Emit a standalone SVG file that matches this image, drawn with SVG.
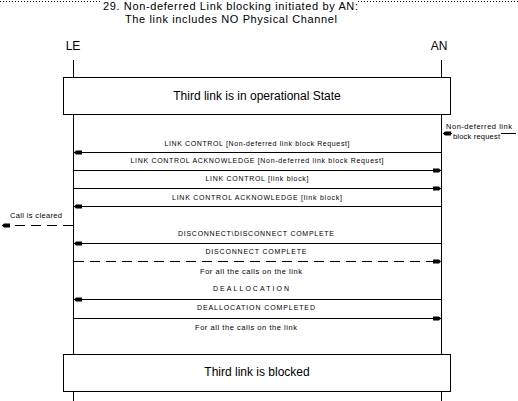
<svg xmlns="http://www.w3.org/2000/svg" width="518" height="401" viewBox="0 0 518 401">
<style>
.t{font-family:"Liberation Sans",Arial,sans-serif;fill:#000}
.h{font-size:12px}
.ti{font-size:11px}
.s{font-size:7.5px}
.m{font-size:7px;text-anchor:middle}
.ln{stroke:#000;stroke-width:1;fill:none}
.d{stroke-dasharray:10,6}
.box{fill:#fff;stroke:#000;stroke-width:1}
</style>
<defs>
<marker id="ah" viewBox="0 0 8 6" refX="8" refY="3" markerWidth="8" markerHeight="6" markerUnits="userSpaceOnUse" orient="auto">
<path d="M0,1 L6,1 L8,3 L6,5 L0,5 Z" fill="#000"/>
</marker>
</defs>
<rect width="518" height="401" fill="#fff"/>
<g id="title">
<line x1="0" y1="1.5" x2="102" y2="1.5" stroke="#000" stroke-width="1" stroke-dasharray="1,2"/>
<line x1="358" y1="1.5" x2="518" y2="1.5" stroke="#000" stroke-width="1" stroke-dasharray="1,2"/>
<text class="t ti" x="103" y="10" textLength="255">29. Non-deferred Link blocking initiated by AN:</text>
<text class="t ti" x="125" y="23" textLength="212">The link includes NO Physical Channel</text>
</g>
<g id="LE">
<text class="t h" x="73" y="50" text-anchor="middle">LE</text>
<line class="ln" x1="73.5" y1="60" x2="73.5" y2="401"/>
</g>
<g id="AN">
<text class="t h" x="439" y="50" text-anchor="middle">AN</text>
<line class="ln" x1="441.5" y1="60" x2="441.5" y2="401"/>
</g>
<g id="state1">
<rect class="box" x="63.5" y="77.5" width="387" height="37"/>
<text class="t h" x="257" y="100" text-anchor="middle">Third link is in operational State</text>
</g>
<g id="state2">
<rect class="box" x="63.5" y="354.5" width="387" height="37"/>
<text class="t h" x="257" y="376" text-anchor="middle">Third link is blocked</text>
</g>
<g id="connectors">
<line class="ln" x1="452" y1="133.5" x2="443" y2="133.5" marker-end="url(#ah)"/>
<line class="ln" x1="501" y1="133.5" x2="516" y2="133.5"/>
<line class="ln" x1="441" y1="152.5" x2="74" y2="152.5" marker-end="url(#ah)"/>
<line class="ln" x1="74" y1="170.5" x2="441" y2="170.5" marker-end="url(#ah)"/>
<line class="ln" x1="74" y1="188.5" x2="441" y2="188.5" marker-end="url(#ah)"/>
<line class="ln" x1="441" y1="206.5" x2="74" y2="206.5" marker-end="url(#ah)"/>
<line class="ln d" x1="73" y1="225.5" x2="2" y2="225.5" marker-end="url(#ah)"/>
<line class="ln" x1="441" y1="243.5" x2="74" y2="243.5" marker-end="url(#ah)"/>
<line class="ln d" x1="74" y1="261.5" x2="441" y2="261.5" marker-end="url(#ah)"/>
<line class="ln" x1="441" y1="299.5" x2="74" y2="299.5" marker-end="url(#ah)"/>
<line class="ln" x1="74" y1="318.5" x2="441" y2="318.5" marker-end="url(#ah)"/>
</g>
<g id="labels">
<text class="t s" x="446" y="129" textLength="66">Non-deferred link</text>
<text class="t s" x="453" y="139" textLength="47">block request</text>
<text class="t m" x="257" y="146" textLength="185">LINK CONTROL [Non-deferred link block Request]</text>
<text class="t m" x="257" y="163" textLength="253">LINK CONTROL ACKNOWLEDGE [Non-deferred link block Request]</text>
<text class="t m" x="257" y="181" textLength="103">LINK CONTROL [link block]</text>
<text class="t m" x="257" y="200" textLength="170">LINK CONTROL ACKNOWLEDGE [link block]</text>
<text class="t s" x="10" y="218" textLength="52">Call is cleared</text>
<text class="t m" x="256" y="236" textLength="156">DISCONNECT\DISCONNECT COMPLETE</text>
<text class="t m" x="256" y="254" textLength="101">DISCONNECT COMPLETE</text>
<text class="t s" x="200" y="274" textLength="102">For all the calls on the link</text>
<text class="t m" x="251" y="291" textLength="76">DEALLOCATION</text>
<text class="t m" x="256" y="310" textLength="118">DEALLOCATION COMPLETED</text>
<text class="t s" x="195" y="330" textLength="102">For all the calls on the link</text>
</g>
</svg>
